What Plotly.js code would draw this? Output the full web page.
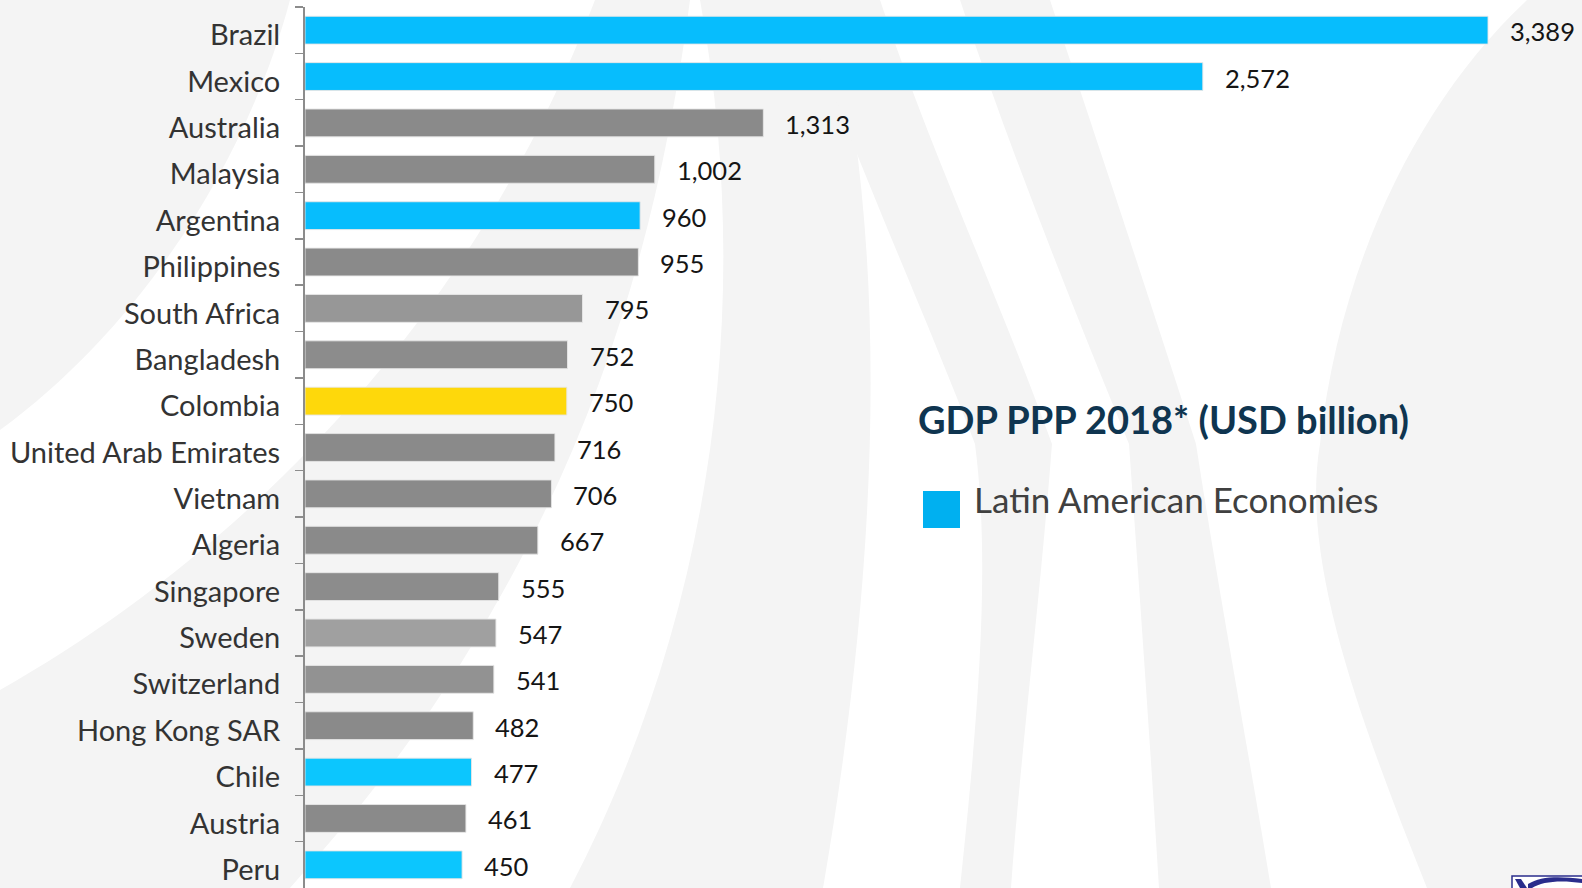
<!DOCTYPE html>
<html>
<head>
<meta charset="utf-8">
<script src="https://cdn.plot.ly/plotly-3.0.1.min.js"></script>
<style>
html,body{margin:0;padding:0;background:#fff;}
#chart{width:1582px;height:888px;}
</style>
</head>
<body>
<div id="chart"></div>
<script>
// ---- data ----
const countries = ["Brazil","Mexico","Australia","Malaysia","Argentina","Philippines","South Africa","Bangladesh","Colombia","United Arab Emirates","Vietnam","Algeria","Singapore","Sweden","Switzerland","Hong Kong SAR","Chile","Austria","Peru"];
const gdpPPP = [3389,2572,1313,1002,960,955,795,752,750,716,706,667,555,547,541,482,477,461,450];
const barColors = ["#07BDFD","#07BDFD","#8A8A8A","#8A8A8A","#07BDFD","#8A8A8A","#979797","#8C8C8C","#FED80B","#8A8A8A","#8A8A8A","#8A8A8A","#8C8C8C","#A0A0A0","#929292","#8A8A8A","#0CC6FE","#8A8A8A","#0CC6FE"];
const chartTitle = "GDP PPP 2018* (USD billion)";
const legendLabel = "Latin American Economies";

// ---- layout geometry ----
const W = 1582, H = 888;
const M = {l:305, r:0, t:7, b:0};
const PW = W - M.l - M.r, PH = H - M.t - M.b;
const px = x => (x - M.l) / PW;
const py = y => 1 - (y - M.t) / PH;
function pathPx(s){
  return s.replace(/(-?\d+(?:\.\d+)?),(-?\d+(?:\.\d+)?)/g, (m,a,b)=> px(+a).toFixed(5)+","+py(+b).toFixed(5));
}
const bgPaths = [
  "M0,0 L290,0 C250,150 150,320 0,430 Z",
  "M595,0 L690,0 C660,230 600,420 500,597 C420,740 350,820 290,888 L0,888 L0,690 C230,560 470,330 595,0 Z",
  "M700,0 L830,0 C890,250 880,560 823,888 L570,888 C700,640 760,330 700,0 Z",
  "M800,0 L880,0 C930,150 1000,300 1052,444 C1040,600 1020,760 1011,888 L960,888 C980,700 990,560 975,444 C920,300 850,150 800,0 Z",
  "M960,0 L1050,0 C1100,150 1150,300 1196,444 C1220,600 1250,760 1271,888 L1159,888 C1150,740 1140,600 1129,444 C1070,300 1010,150 960,0 Z",
  "M1527,0 L1582,0 L1582,888 L1427,888 C1360,720 1300,560 1320,444 C1340,260 1420,100 1527,0 Z"
];
const shapes = bgPaths.map(p => ({
  type:"path", xref:"paper", yref:"paper", path: pathPx(p),
  fillcolor:"#F4F4F4", line:{width:0}, layer:"below"
}));
// legend swatch
shapes.push({type:"rect", xref:"paper", yref:"paper", x0:px(923), x1:px(960), y0:py(528), y1:py(491), fillcolor:"#00B0F0", line:{width:0}, layer:"above"});
// corner logo fragment
shapes.push({type:"rect", xref:"paper", yref:"paper", x0:px(1512), x1:px(1590), y0:py(895), y1:py(876), fillcolor:"#FFFFFF", line:{color:"#2A2D8C", width:1.5}, layer:"above"});
shapes.push({type:"path", xref:"paper", yref:"paper", path: pathPx("M1515,879 L1521,879 L1527,888 L1520,888 Z"), fillcolor:"#2A2D8C", line:{width:0}, layer:"above"});
shapes.push({type:"path", xref:"paper", yref:"paper", path: pathPx("M1528,884 C1540,876 1560,876 1582,879 L1582,883 C1562,880 1542,881 1532,888 L1528,888 Z"), fillcolor:"#2A2D8C", line:{width:0}, layer:"above"});

const annotations = countries.map((c,i)=>({
  x: gdpPPP[i], y: c, xref:"x", yref:"y", text: gdpPPP[i].toLocaleString("en-US"),
  xanchor:"left", yanchor:"middle", xshift:20, yshift:-1, showarrow:false,
  font:{family:"Lato, 'Noto Sans', sans-serif", size:25.5, color:"#151515"}
}));
annotations.push({
  xref:"paper", yref:"paper", x:px(916), y:py(419), xanchor:"left", yanchor:"middle",
  text:"<b>"+chartTitle+"</b>", showarrow:false,
  font:{family:"Lato, 'Noto Sans', sans-serif", size:38, color:"#0F3550"}
});
annotations.push({
  xref:"paper", yref:"paper", x:px(972), y:py(499), xanchor:"left", yanchor:"middle",
  text:legendLabel, showarrow:false,
  font:{family:"Lato, 'Noto Sans', sans-serif", size:35, color:"#404040"}
});

const trace = {
  type:"bar", orientation:"h", x:gdpPPP, y:countries,
  marker:{color:barColors, line:{color:"rgba(230,230,230,0.9)", width:1}},
  hoverinfo:"x+y", showlegend:false
};

const layout = {
  width:W, height:H, margin:M,
  paper_bgcolor:"#FFFFFF", plot_bgcolor:"rgba(0,0,0,0)",
  bargap:0.4, showlegend:false,
  xaxis:{range:[0, 3389*PW/1183], visible:false, fixedrange:true},
  yaxis:{
    type:"category", autorange:"reversed",
    showline:true, linecolor:"#8C8C8C", linewidth:2,
    ticks:"outside", ticklen:8, tickwidth:1.5, tickcolor:"#8C8C8C",
    tickson:"boundaries", showgrid:false, zeroline:false,
    ticklabelstandoff:17, ticklabelshift:-5,
    tickfont:{family:"Lato, 'Noto Sans', sans-serif", size:29, color:"#333333"},
    fixedrange:true
  },
  shapes:shapes,
  annotations:annotations,
  font:{family:"Lato, 'Noto Sans', sans-serif"}
};

Plotly.newPlot("chart", [trace], layout, {displayModeBar:false, staticPlot:true});
</script>
</body>
</html>
